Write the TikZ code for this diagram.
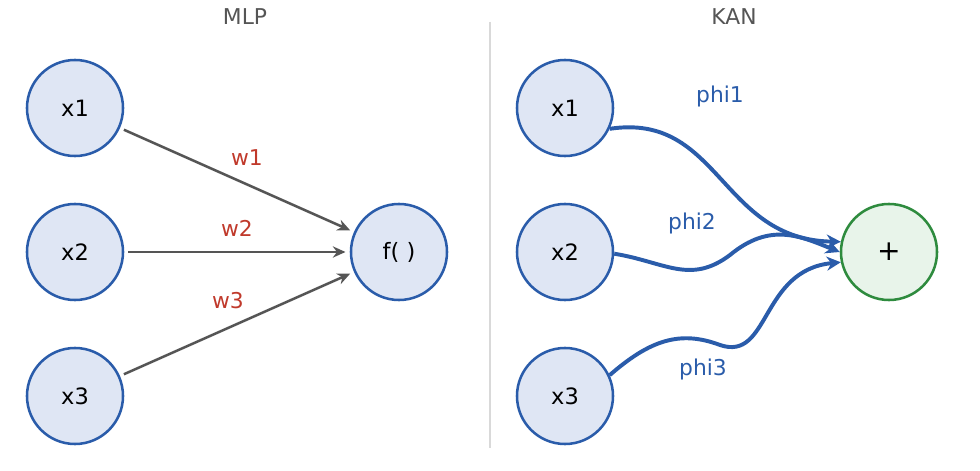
\documentclass[tikz,border=0pt]{standalone}
\usepackage{fontspec}
\setmainfont{DejaVu Sans}
\usetikzlibrary{arrows.meta}
\definecolor{nodeblue}{HTML}{2A5CAA}
\definecolor{nodefill}{HTML}{DFE6F4}
\definecolor{sumgreen}{HTML}{2E8B3E}
\definecolor{sumfill}{HTML}{E8F4EA}
\definecolor{wred}{HTML}{C0392B}
\definecolor{edgegray}{HTML}{555555}
\tikzset{
  unit/.style={circle,draw=nodeblue,fill=nodefill,line width=1.8pt,minimum size=2.4cm,inner sep=0pt,font=\fontsize{16}{18}\selectfont},
  sumnode/.style={unit,draw=sumgreen,fill=sumfill,font=\fontsize{20}{22}\selectfont},
  wedge/.style={draw=edgegray,line width=1.8pt,-{Stealth[length=9pt,width=8pt]},shorten <=3pt,shorten >=3pt},
  phiedge/.style={draw=nodeblue,line width=2.8pt,-{Stealth[length=10pt,width=10pt]}},
  wlabel/.style={text=wred,font=\fontsize{15.5}{18}\selectfont},
  philabel/.style={text=nodeblue,font=\fontsize{15.5}{18}\selectfont},
  title/.style={text=edgegray,font=\fontsize{15.5}{18}\selectfont}
}
\begin{document}
\begin{tikzpicture}[x=0.025cm,y=-0.025cm]
	\useasboundingbox (0,0) rectangle (980,471);
	
	\node[title] (tm) at (245,17) {MLP};
	\node[title] (tk) at (734,17) {KAN};
	\coordinate (d1) at (490,22);
	\coordinate (d2) at (490,448);
	\draw[black!15,line width=1.5pt] (d1) -- (d2);
	
	% MLP
	\node[unit] (m1) at (75,108) {x1};
	\node[unit] (m2) at (75,252) {x2};
	\node[unit] (m3) at (75,396) {x3};
	\node[unit] (f) at (399,252) {f( )};
	
	\draw[wedge] (m1) -- (f);
	\draw[wedge] (m2) -- (f);
	\draw[wedge] (m3) -- (f);
	
	\node[wlabel] (w1) at (247,158) {w1};
	\node[wlabel] (w2) at (237,228) {w2};
	\node[wlabel] (w3) at (228,301) {w3};
	
	% KAN
	\node[unit] (k1) at (565,108) {x1};
	\node[unit] (k2) at (565,252) {x2};
	\node[unit] (k3) at (565,396) {x3};
	\node[sumnode] (s) at (889,252) {+};
	
	\draw[phiedge] (k1.-25) .. controls (720,112) and (720,240) .. (s.168);
	\draw[phiedge] (k2.-2) .. controls (665,262) and (690,285) .. (730,255)
		.. controls (770,222) and (800,236) .. (s.180);
	\draw[phiedge] (k3.25) .. controls (650,340) and (680,330) .. (720,345)
		.. controls (770,362) and (760,270) .. (s.192);
	
	\node[philabel] (p1) at (720,96) {phi1};
	\node[philabel] (p2) at (692,223) {phi2};
	\node[philabel] (p3) at (703,369) {phi3};
	
\end{tikzpicture}
\end{document}
